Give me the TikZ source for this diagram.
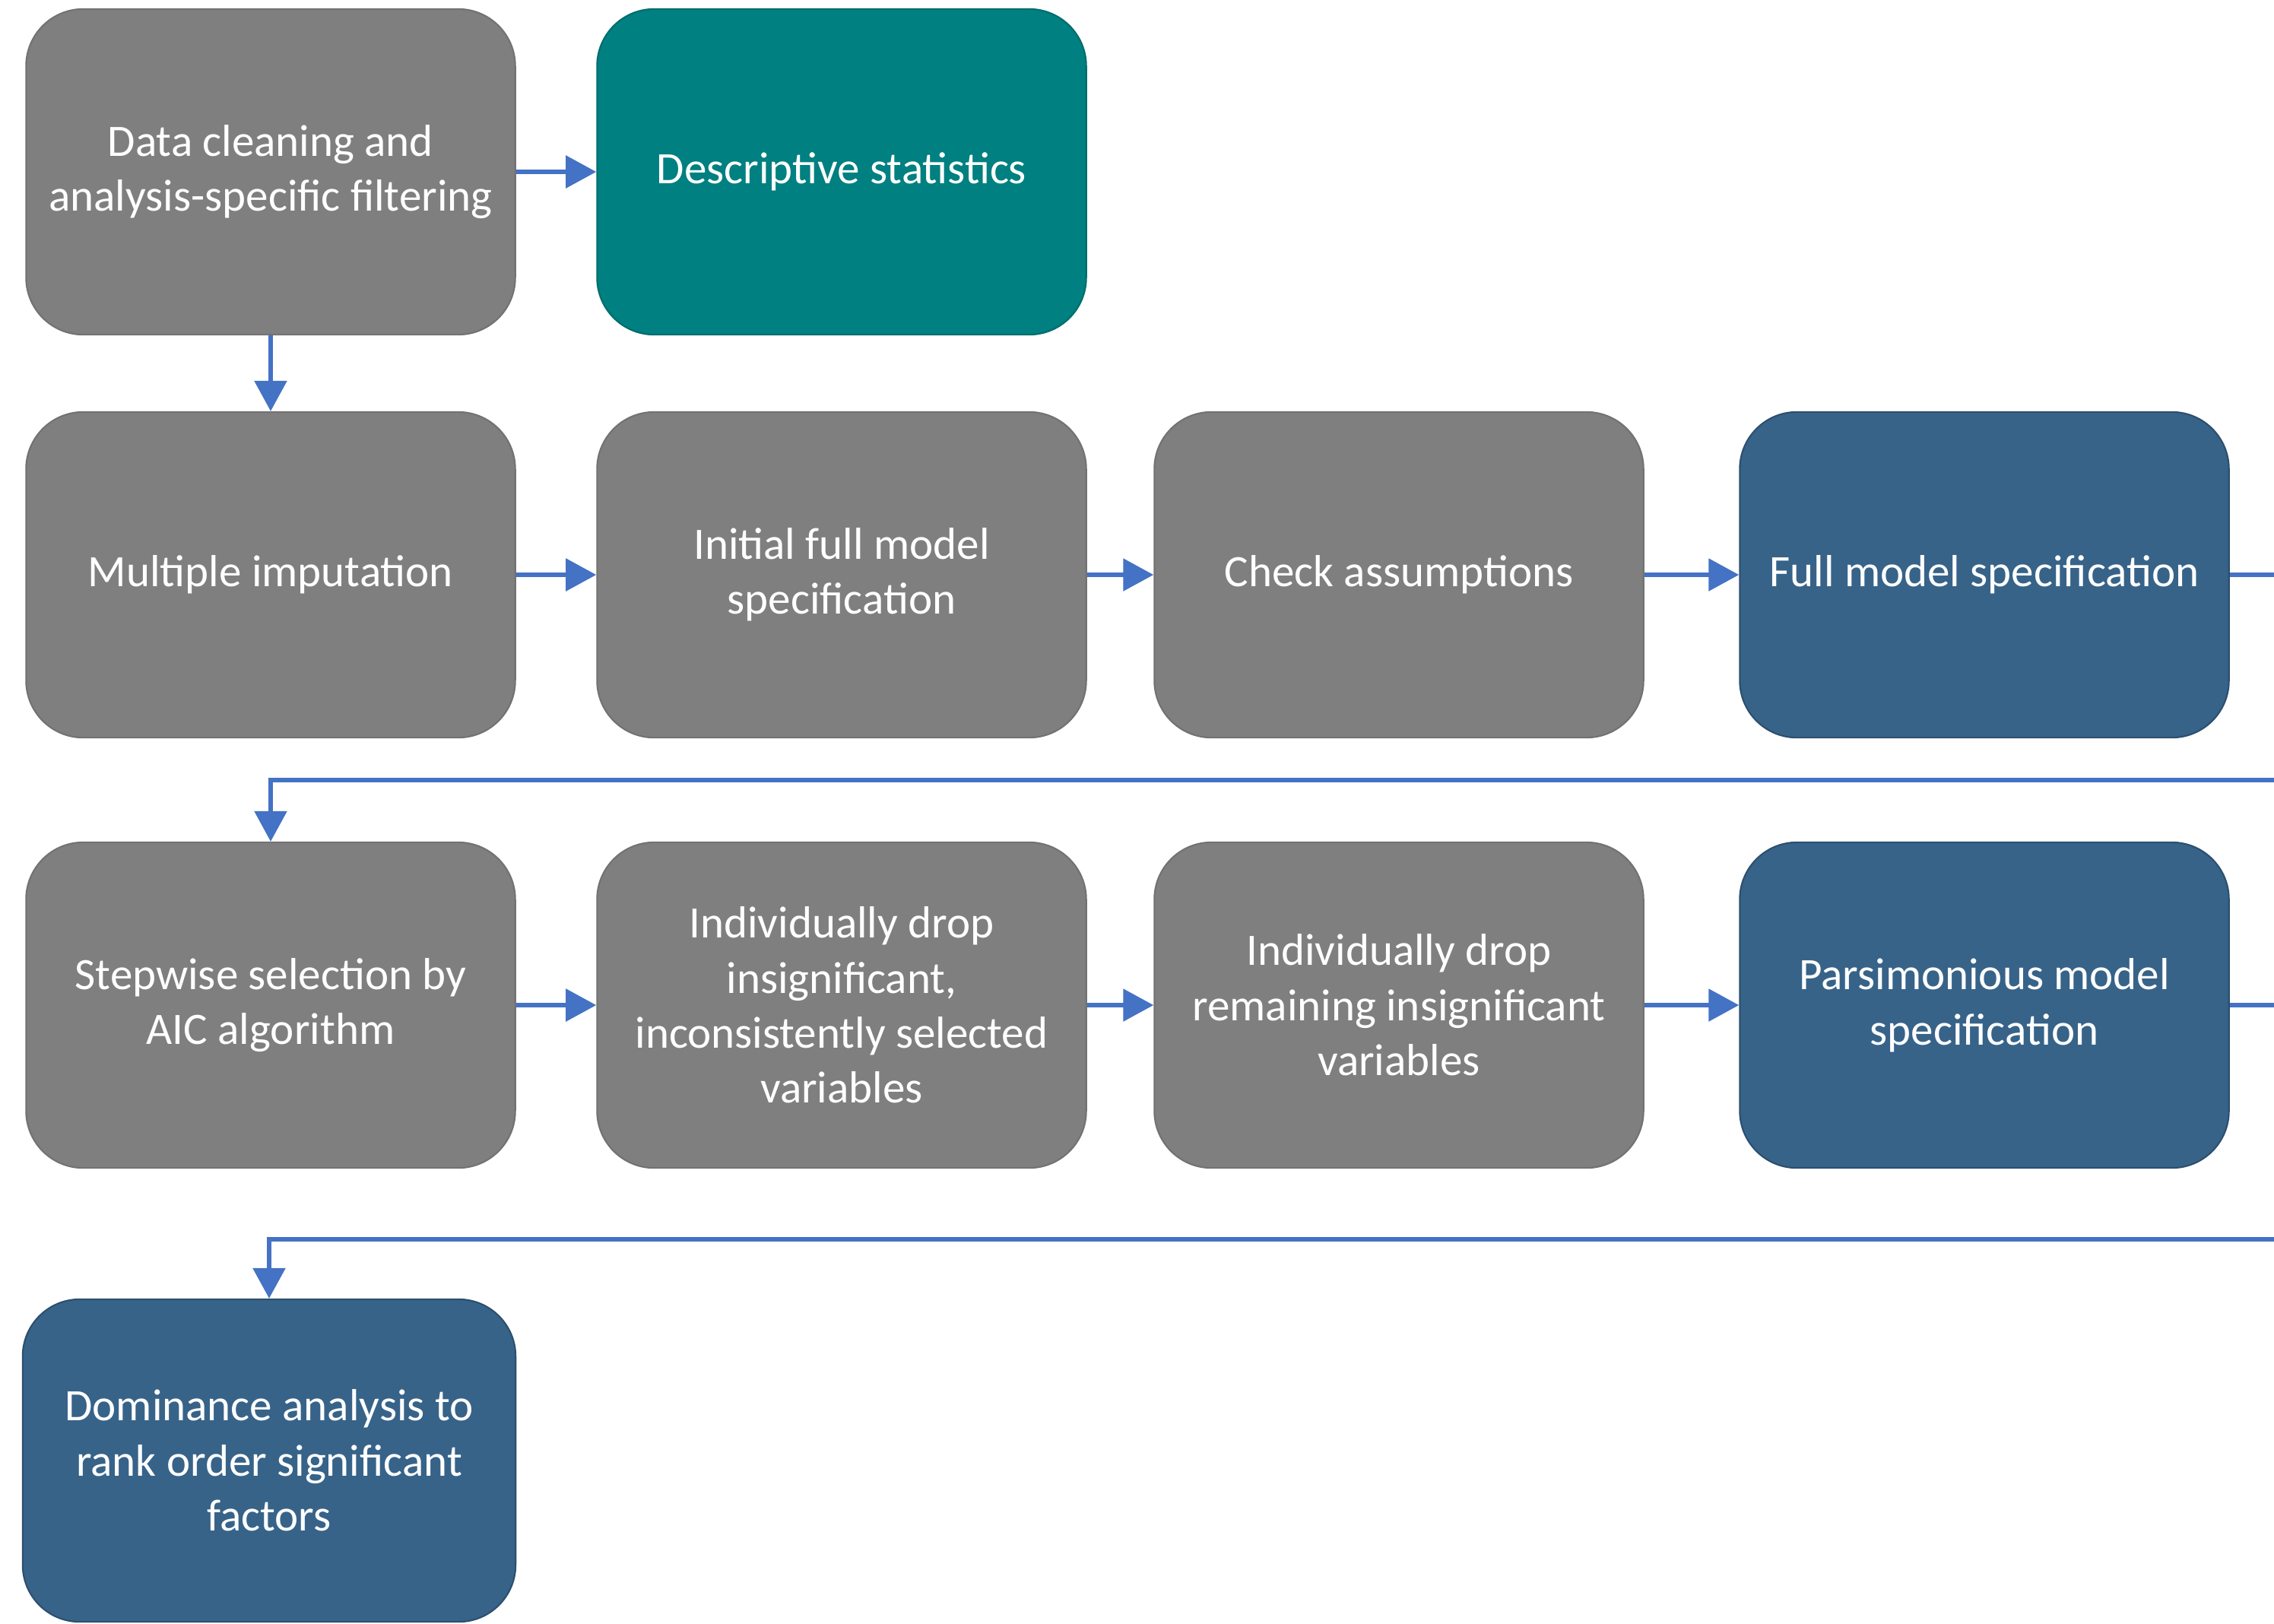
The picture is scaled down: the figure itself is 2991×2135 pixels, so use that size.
\documentclass[tikz,border=0pt]{standalone}
\usepackage{fontspec}
\setmainfont{Carlito}
\usetikzlibrary{arrows.meta}

\definecolor{boxgray}{HTML}{7F7F7F}
\definecolor{boxteal}{HTML}{008080}
\definecolor{boxblue}{HTML}{376389}
\definecolor{arrowblue}{HTML}{4472C4}

\begin{document}
\begin{tikzpicture}[x=0.01cm, y=-0.01cm,
    box/.style={rounded corners=0.75cm, minimum width=6.43cm, minimum height=4.28cm,
        align=center, text=white, line width=0.6pt,
        font=\fontsize{16.8}{20.6}\selectfont},
    graybox/.style={box, fill=boxgray, draw=boxgray!90!black},
    tealbox/.style={box, fill=boxteal, draw=boxteal!85!black},
    bluebox/.style={box, fill=boxblue, draw=boxblue!80!black},
    arr/.style={-{Triangle[length=0.4cm, width=0.42cm]}, draw=arrowblue, line width=1.6pt}]

    %% Analysis workflow

    % Frame
    \clip (0, 0) rectangle (2991, 2135);

    % Row 1
    \node[graybox] (clean) at (356, 226) {Data cleaning and\\analysis-specific filtering};
    \node[tealbox] (desc) at (1107, 226) {Descriptive statistics};

    % Row 2
    \node[graybox] (impute) at (356, 756) {Multiple imputation};
    \node[graybox] (initial) at (1107, 756) {Initial full model\\specification};
    \node[graybox] (assume) at (1840, 756) {Check assumptions};
    \node[bluebox] (full) at (2610, 756) {Full model specification};

    % Row 3
    \node[graybox] (stepwise) at (356, 1322) {Stepwise selection by\\AIC algorithm};
    \node[graybox] (dropone) at (1107, 1322) {Individually drop\\insignificant,\\inconsistently selected\\variables};
    \node[graybox] (droptwo) at (1840, 1322) {Individually drop\\remaining insignificant\\variables};
    \node[bluebox] (pars) at (2610, 1322) {Parsimonious model\\specification};

    % Row 4
    \node[bluebox, minimum width=6.48cm, minimum height=4.24cm] (dominance) at (354, 1921)
        {Dominance analysis to\\rank order significant\\factors};

    % Turn points off the right edge
    \coordinate (turnA) at (3100, 1026);
    \coordinate (turnB) at (3100, 1630);

    % Arrows
    \draw[arr] (clean) -- (desc);
    \draw[arr] (clean) -- (impute);
    \draw[arr] (impute) -- (initial);
    \draw[arr] (initial) -- (assume);
    \draw[arr] (assume) -- (full);
    \draw[arr] (full.east) -| (turnA) -| (stepwise.north);
    \draw[arr] (stepwise) -- (dropone);
    \draw[arr] (dropone) -- (droptwo);
    \draw[arr] (droptwo) -- (pars);
    \draw[arr] (pars.east) -| (turnB) -| (dominance.north);

\end{tikzpicture}
\end{document}
